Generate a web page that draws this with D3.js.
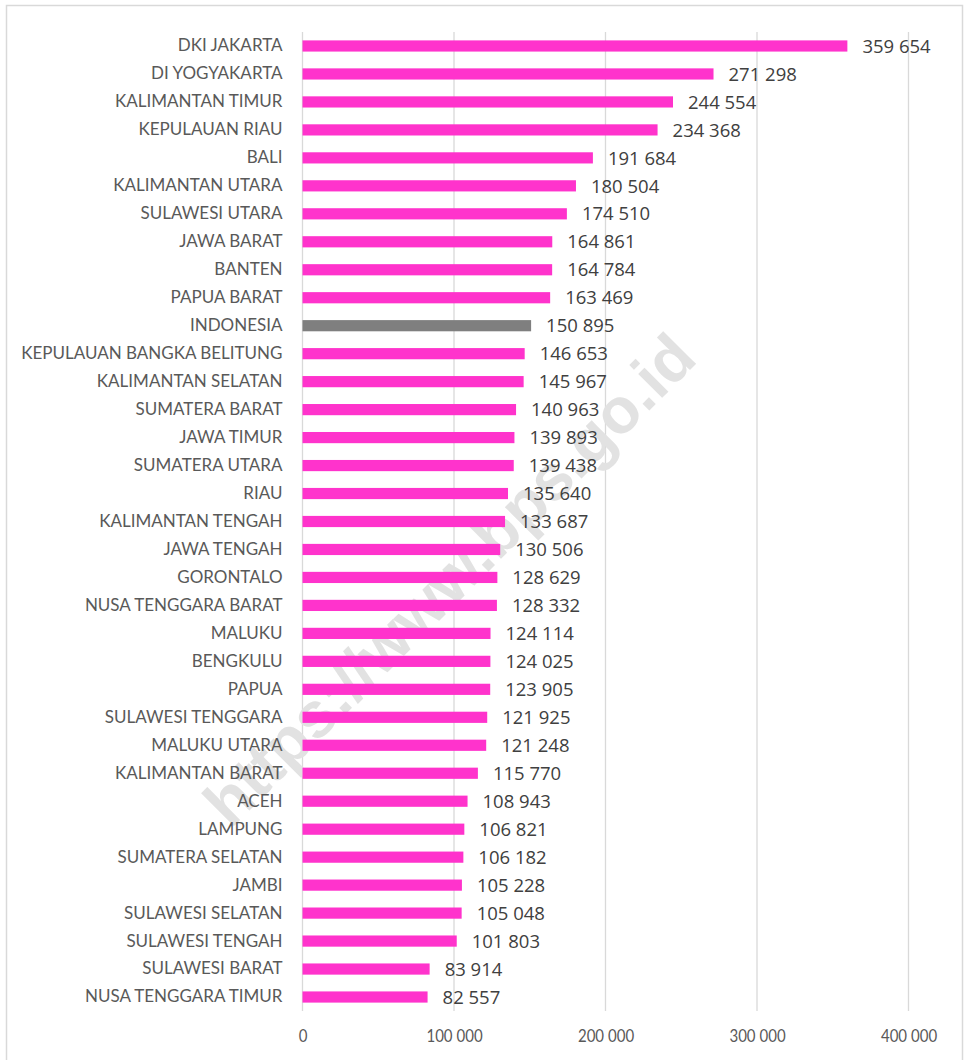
<!DOCTYPE html>
<html>
<head>
<meta charset="utf-8">
<script src="https://cdn.jsdelivr.net/npm/d3@7"></script>
<style>
  html, body { margin: 0; padding: 0; background: #fff; }
</style>
</head>
<body>
<div id="chart"></div>
<script>
const provinces = [
  'DKI JAKARTA', 'DI YOGYAKARTA', 'KALIMANTAN TIMUR', 'KEPULAUAN RIAU', 'BALI',
  'KALIMANTAN UTARA', 'SULAWESI UTARA', 'JAWA BARAT', 'BANTEN', 'PAPUA BARAT',
  'INDONESIA', 'KEPULAUAN BANGKA BELITUNG', 'KALIMANTAN SELATAN', 'SUMATERA BARAT', 'JAWA TIMUR',
  'SUMATERA UTARA', 'RIAU', 'KALIMANTAN TENGAH', 'JAWA TENGAH', 'GORONTALO',
  'NUSA TENGGARA BARAT', 'MALUKU', 'BENGKULU', 'PAPUA', 'SULAWESI TENGGARA',
  'MALUKU UTARA', 'KALIMANTAN BARAT', 'ACEH', 'LAMPUNG', 'SUMATERA SELATAN',
  'JAMBI', 'SULAWESI SELATAN', 'SULAWESI TENGAH', 'SULAWESI BARAT', 'NUSA TENGGARA TIMUR'
];
const values = [
  359654, 271298, 244554, 234368, 191684,
  180504, 174510, 164861, 164784, 163469,
  150895, 146653, 145967, 140963, 139893,
  139438, 135640, 133687, 130506, 128629,
  128332, 124114, 124025, 123905, 121925,
  121248, 115770, 108943, 106821, 106182,
  105228, 105048, 101803, 83914, 82557
];
const xTicks = [0, 100000, 200000, 300000, 400000];
const highlight = 'INDONESIA';

const data = provinces.map((p, i) => ({ name: p, value: values[i] }));

const totalW = 966, totalH = 1060;
const svg = d3.select('#chart').append('svg')
  .attr('width', totalW).attr('height', totalH)
  .style('display', 'block');

const fmt = v => d3.format(',')(v).replace(/,/g, ' ');

// outer border
svg.append('rect')
  .attr('x', 6.5).attr('y', 5.5).attr('width', 956).attr('height', 1070)
  .attr('fill', 'none').attr('stroke', '#d9d9d9').attr('stroke-width', 1.5);

const x = d3.scaleLinear().domain([0, 400000]).range([302.5, 908.5]);
const y = d3.scaleBand().domain(provinces).range([32, 1011]).paddingInner(0.6).paddingOuter(0.3);

// Grid
svg.append('g').selectAll('line')
  .data(xTicks).enter().append('line')
  .attr('x1', d => x(d)).attr('x2', d => x(d))
  .attr('y1', 32).attr('y2', 1011)
  .attr('stroke', '#d9d9d9').attr('stroke-width', 1.3);

// Watermark
svg.append('text')
  .attr('transform', 'translate(453,583) rotate(-45)')
  .attr('text-anchor', 'middle')
  .attr('dominant-baseline', 'middle')
  .attr('font-family', "'Liberation Sans', Arial, sans-serif")
  .attr('font-weight', 'bold')
  .attr('font-size', '64px')
  .attr('fill', '#e2e2e2')
  .text('https://www.bps.go.id');

// X axis (labels narrow and tall, like the source)
const xAxis = svg.append('g')
  .attr('transform', 'translate(0,1011)')
  .call(d3.axisBottom(x).tickValues(xTicks).tickSize(0).tickPadding(0).tickFormat(fmt));
xAxis.select('.domain').remove();
xAxis.selectAll('.tick text')
  .attr('y', 19).attr('dy', '0.71em')
  .attr('transform', 'scale(0.86,1)')
  .attr('fill', '#595959').attr('font-family', "Lato, sans-serif").attr('font-size', '17.5px');

// Y axis
const yAxis = svg.append('g')
  .attr('transform', `translate(${x(0)},0)`)
  .call(d3.axisLeft(y).tickSize(0).tickPadding(20));
yAxis.select('.domain').remove();
yAxis.selectAll('.tick text')
  .attr('fill', '#595959').attr('font-family', "Lato, sans-serif").attr('font-size', '17px');

// Bars
svg.append('g').selectAll('rect')
  .data(data).enter().append('rect')
  .attr('x', x(0))
  .attr('y', d => y(d.name))
  .attr('width', d => x(d.value) - x(0))
  .attr('height', y.bandwidth())
  .attr('fill', d => d.name === highlight ? '#7f7f7f' : '#ff33cc');

// Value labels
svg.append('g').selectAll('text')
  .data(data).enter().append('text')
  .attr('x', d => x(d.value) + 15)
  .attr('y', d => y(d.name) + y.bandwidth() / 2)
  .attr('dy', '0.36em')
  .attr('fill', '#404040').attr('font-family', "'Open Sans', sans-serif").attr('font-size', '18.5px')
  .text(d => fmt(d.value));
</script>
</body>
</html>
